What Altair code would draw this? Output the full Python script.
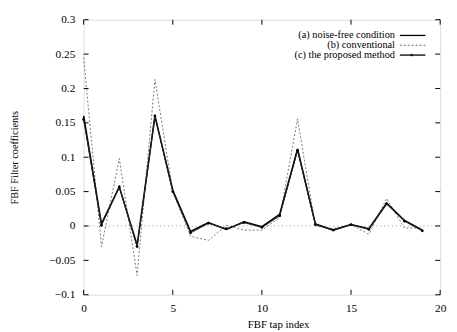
import altair as alt
import pandas as pd

tap_index = list(range(20))
noise_free = [0.160, 0.003, 0.057, -0.028, 0.160, 0.052, -0.008, 0.005, -0.005, 0.006,
              -0.001, 0.017, 0.112, 0.003, -0.006, 0.002, -0.004, 0.033, 0.008, -0.006]
conventional = [0.245, -0.030, 0.098, -0.072, 0.213, 0.050, -0.015, -0.021, 0.001, -0.006,
                -0.006, 0.012, 0.156, 0.000, -0.004, 0.002, -0.012, 0.040, -0.003, -0.003]
proposed = [0.155, 0.001, 0.057, -0.030, 0.160, 0.050, -0.010, 0.004, -0.004, 0.005,
            -0.002, 0.015, 0.110, 0.002, -0.006, 0.002, -0.005, 0.032, 0.007, -0.007]
series_names = ["(a) noise-free condition", "(b) conventional", "(c) the proposed method"]
x_ticks = [0, 5, 10, 15, 20]
y_ticks = [-0.1, -0.05, 0, 0.05, 0.1, 0.15, 0.2, 0.25, 0.3]

rows = []
for name, vals in zip(series_names, [noise_free, conventional, proposed]):
    for i, v in zip(tap_index, vals):
        rows.append({"series": name, "idx": i, "val": v})
df = pd.DataFrame(rows)

FONT = "Liberation Serif"
W, H = 363, 280
xs = alt.Scale(domain=[0, 20], nice=False, zero=False)
ys = alt.Scale(domain=[-0.1, 0.3], nice=False, zero=False)
xaxis = alt.Axis(values=x_ticks, tickSize=0, domain=False, grid=False, title="FBF tap index",
                 labelFont=FONT, labelFontSize=11.5, labelColor="black", labelPadding=8,
                 titleFont=FONT, titleFontSize=11, titleFontWeight="normal", titleColor="black",
                 titlePadding=5, titleX=198, labelFlush=False)
yaxis = alt.Axis(values=y_ticks, format=".2~f", tickSize=0, domain=False, grid=False,
                 title="FBF Filter coefficients",
                 labelFont=FONT, labelFontSize=11.5, labelColor="black", labelPadding=9,
                 titleFont=FONT, titleFontSize=10.5, titleFontWeight="normal", titleColor="black",
                 titlePadding=30, labelFlush=False)

X = alt.X("idx:Q", scale=xs, axis=xaxis)
Y = alt.Y("val:Q", scale=ys, axis=yaxis)

line_base = alt.Chart(df)

zero_line = alt.Chart(pd.DataFrame({"val": [0.0]})).mark_rule(
    color="#999999", strokeWidth=1, strokeDash=[1, 3]).encode(y=Y)

conv = line_base.transform_filter(alt.datum.series == series_names[1]).mark_line(
    color="#777777", strokeWidth=1, strokeDash=[2, 2]).encode(x=X, y=Y)
nf = line_base.transform_filter(alt.datum.series == series_names[0]).mark_line(
    color="black", strokeWidth=1.6).encode(x=X, y=Y)
prop = line_base.transform_filter(alt.datum.series == series_names[2]).mark_line(
    color="#222222", strokeWidth=1.1,
    point=alt.OverlayMarkDef(filled=True, color="black", size=8)).encode(x=X, y=Y)

xt = alt.Chart(pd.DataFrame({"idx": x_ticks}))
yt = alt.Chart(pd.DataFrame({"val": y_ticks}))
ticks = [
    xt.mark_rule(color="black").encode(x=X, y=alt.value(H), y2=alt.value(H - 5)),
    xt.mark_rule(color="black").encode(x=X, y=alt.value(0), y2=alt.value(5)),
    yt.mark_rule(color="black").encode(y=Y, x=alt.value(0), x2=alt.value(5)),
    yt.mark_rule(color="black").encode(y=Y, x=alt.value(W), x2=alt.value(W - 5)),
]

leg_df = pd.DataFrame({"label": series_names})
row_y = [16, 26, 36]
legend_layers = []
dashes = [None, [2, 2], None]
for k, name in enumerate(series_names):
    src = alt.Chart(leg_df).transform_filter(alt.datum.label == name)
    legend_layers.append(src.mark_text(align="right", baseline="middle", font=FONT, fontSize=10.5,
                                       color="black").encode(
        text="label:N", x=alt.value(317), y=alt.value(row_y[k])))
    kw = dict(color="black", strokeWidth=1.3)
    if dashes[k]:
        kw = dict(color="#666666", strokeWidth=1, strokeDash=dashes[k])
    legend_layers.append(src.mark_rule(**kw).encode(
        x=alt.value(322), x2=alt.value(348), y=alt.value(row_y[k])))
    if k == 2:
        legend_layers.append(src.mark_point(filled=True, color="black", size=8).encode(
            x=alt.value(334), y=alt.value(row_y[k])))

chart = alt.layer(zero_line, conv, nf, prop, *ticks, *legend_layers).properties(
    width=W, height=H,
    autosize=alt.AutoSizeParams(type="none"),
    padding={"left": 77, "top": 9, "right": 9, "bottom": 35},
).configure_view(stroke="black", strokeWidth=1.2).configure(background="white")

chart.save("out.html", embed_options={"renderer": "svg", "actions": False})
